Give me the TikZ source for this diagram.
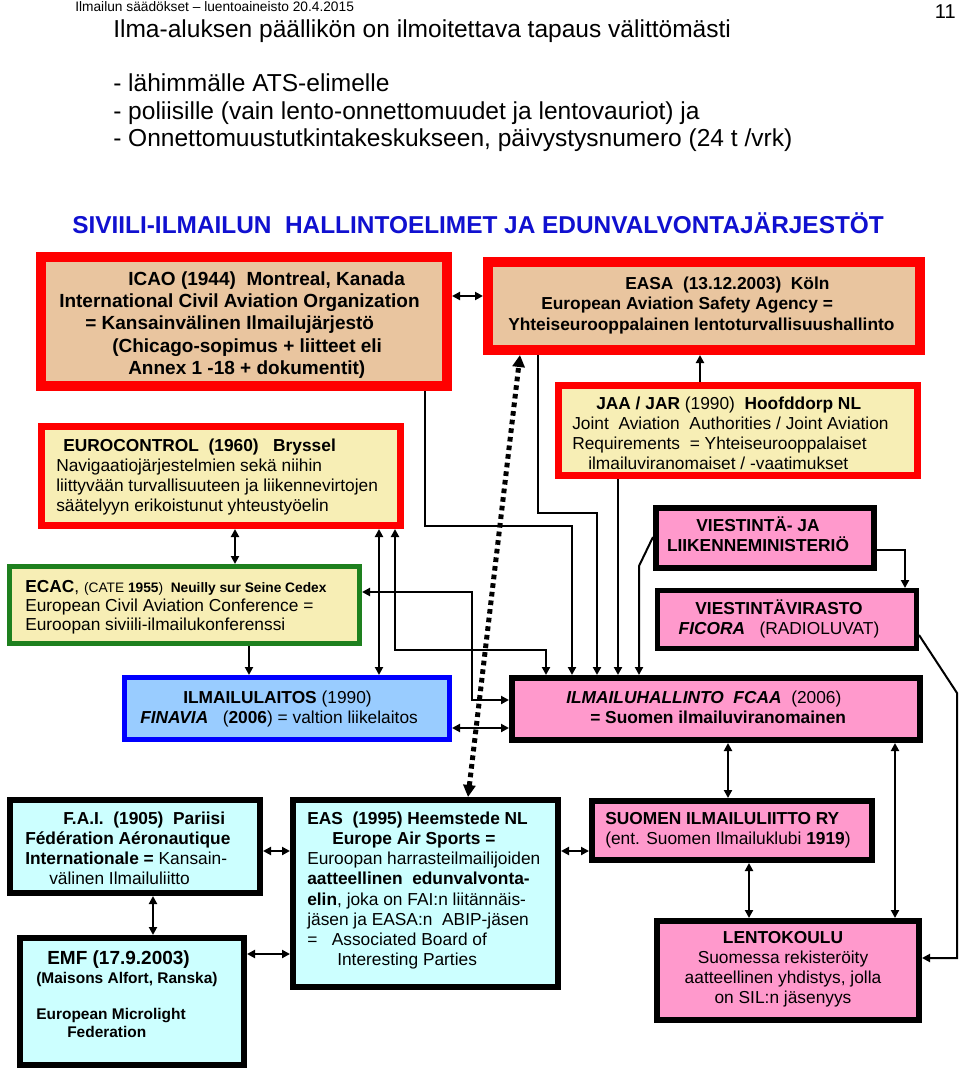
\documentclass[tikz,border=0pt]{standalone}
\usepackage{fontspec}
\setmainfont{Liberation Sans}
\usetikzlibrary{arrows.meta}
\definecolor{icaofill}{HTML}{E9C59F}
\definecolor{yelfill}{HTML}{F7EEB5}
\definecolor{pinkf}{HTML}{FF99CC}
\definecolor{bluef}{HTML}{99CCFF}
\definecolor{cyanf}{HTML}{CCFFFF}
\definecolor{greenb}{HTML}{1E801E}
\definecolor{headblue}{HTML}{1010D0}
\newcommand\tbl[1]{\begin{tabular}[t]{@{}l@{}}#1\end{tabular}}
\newcommand\tbc[1]{\begin{tabular}[t]{@{}c@{}}#1\end{tabular}}
\begin{document}
\begin{tikzpicture}[x=0.75pt,y=-0.75pt,
  box/.style={draw, rectangle, inner sep=0pt},
  arr/.style={-{Triangle[length=6pt,width=6pt]}, line width=1.5pt},
  dbl/.style={{Triangle[length=6pt,width=6pt]}-{Triangle[length=6pt,width=6pt]}, line width=1.5pt},
  dotarr/.style={{Triangle[length=9pt,width=9pt]}-{Triangle[length=9pt,width=9pt]}, line width=3.75pt, dash pattern=on 3.5pt off 3pt},
  txt/.style={anchor=base west, inner sep=0pt, font=\fontsize{13}{15}\selectfont},
  txc/.style={anchor=base, inner sep=0pt, font=\fontsize{13}{15}\selectfont}]
\useasboundingbox (0,0) rectangle (960,1070);
\fill[white] (0,0) rectangle (960,1070);

% header texts
\node[anchor=base west, inner sep=0pt, font=\fontsize{10.3}{12}\selectfont] (hdr) at (75,12) {Ilmailun säädökset – luentoaineisto 20.4.2015};
\node[anchor=base east, inner sep=0pt, font=\fontsize{15}{18}\selectfont] (pg) at (956,19) {11};
\node[anchor=base west, inner sep=0pt, font=\fontsize{18.4}{22}\selectfont] (title) at (113,38) {Ilma-aluksen päällikön on ilmoitettava tapaus välittömästi};
\node[anchor=base west, inner sep=0pt, font=\fontsize{18.4}{20.6}\selectfont] (bul) at (113,92) {\tbl{- lähimmälle ATS-elimelle\\- poliisille (vain lento-onnettomuudet ja lentovauriot) ja\\- Onnettomuustutkintakeskukseen, päivystysnumero (24 t /vrk)}};
\node[anchor=base west, inner sep=0pt, text=headblue, font=\bfseries\fontsize{18.3}{21}\selectfont] (head) at (72,233) {SIVIILI-ILMAILUN~~HALLINTOELIMET JA EDUNVALVONTAJÄRJESTÖT};

% boxes
\node[box, draw=red, fill=icaofill, line width=7.5pt, minimum width=304.5pt, minimum height=96.75pt] (icao) at (244,321.5) {};
\node[box, draw=red, fill=yelfill, line width=5.25pt, minimum width=269.25pt, minimum height=74.25pt] (euro) at (221,476) {};
\node[box, draw=red, fill=icaofill, line width=7.5pt, minimum width=324pt, minimum height=66pt] (easa) at (704,306) {};
\node[box, draw=red, fill=yelfill, line width=5.25pt, minimum width=269.25pt, minimum height=67.5pt] (jaa) at (738,430.5) {};
\node[box, draw=black, fill=pinkf, line width=4.5pt, minimum width=163.5pt, minimum height=45pt] (lvm) at (765,538) {};
\node[box, draw=black, fill=pinkf, line width=3.75pt, minimum width=194.25pt, minimum height=43.5pt] (ficora) at (787,619.5) {};
\node[box, draw=greenb, fill=yelfill, line width=3.75pt, minimum width=262.5pt, minimum height=57.75pt] (ecac) at (184.5,605) {};
\node[box, draw=blue, fill=bluef, line width=3.75pt, minimum width=243.75pt, minimum height=46.5pt] (finavia) at (287,708.5) {};
\node[box, draw=black, fill=pinkf, line width=4.5pt, minimum width=306pt, minimum height=46.5pt] (fcaa) at (716,709) {};
\node[box, draw=black, fill=cyanf, line width=4.5pt, minimum width=187.5pt, minimum height=69.75pt] (fai) at (135,846.5) {};
\node[box, draw=black, fill=cyanf, line width=4.5pt, minimum width=168pt, minimum height=95.25pt] (emf) at (132,1001.5) {};
\node[box, draw=black, fill=cyanf, line width=4.5pt, minimum width=198.75pt, minimum height=140.25pt] (eas) at (425.5,893.5) {};
\node[box, draw=black, fill=pinkf, line width=4.5pt, minimum width=210pt, minimum height=44.25pt] (sil) at (732,830.5) {};
\node[box, draw=black, fill=pinkf, line width=4.5pt, minimum width=196.5pt, minimum height=74.25pt] (lento) at (788,970.5) {};

% connectors
\draw[dbl] (icao.east|-0,296) -- (easa.west|-0,296);
\draw[arr] (jaa.north-|700,0) -- (easa.south-|700,0);
\draw[dotarr] (eas.north-|468,0) -- (easa.south-|520,0);
\draw[arr] (icao.south-|425,0) |- (572,526) -- (fcaa.north-|572,0);
\draw[arr] (easa.south-|538,0) |- (597,513) -- (fcaa.north-|597,0);
\draw[arr] (jaa.south-|618,0) -- (fcaa.north-|618,0);
\draw[arr] (lvm.west|-0,537) -- (639,566) -- (fcaa.north-|639,0);
\draw[arr] (lvm.east|-0,550) -| (ficora.north-|905,0);
\draw[arr] (ficora.east|-0,635) -- (957,693) |- (lento.east|-0,958);
\draw[dbl] (euro.south-|235,0) -- (ecac.north-|235,0);
\draw[arr] (ecac.south-|249,0) -- (finavia.north-|249,0);
\draw[dbl] (euro.south-|379,0) -- (finavia.north-|379,0);
\draw[dbl] (euro.south-|395,0) |- (546,650) -- (fcaa.north-|546,0);
\draw[dbl] (ecac.east|-0,592) -| (472,700) -- (fcaa.west|-0,700);
\draw[dbl] (finavia.east|-0,728) -- (fcaa.west|-0,728);
\draw[dbl] (fcaa.south-|728,0) -- (sil.north-|728,0);
\draw[dbl] (fcaa.south-|895,0) -- (lento.north-|895,0);
\draw[dbl] (sil.south-|749,0) -- (lento.north-|749,0);
\draw[dbl] (fai.east|-0,851) -- (eas.west|-0,851);
\draw[dbl] (emf.east|-0,954) -- (eas.west|-0,954);
\draw[dbl] (eas.east|-0,851) -- (sil.west|-0,851);
\draw[dbl] (fai.south-|153,0) -- (emf.north-|153,0);

% box texts
\node[txt, font=\bfseries\fontsize{14.25}{16.75}\selectfont] (icaot) at (59,285) {\tbl{\hspace*{51.75pt}ICAO (1944)~~Montreal, Kanada\\International Civil Aviation Organization\\\hspace*{19.5pt}= Kansainvälinen Ilmailujärjestö\\\hspace*{39.75pt}(Chicago-sopimus + liitteet eli\\\hspace*{51.75pt}Annex 1 -18 + dokumentit)}};
\node[txt] (eurot) at (56,451) {\tbl{\hspace*{5.25pt}\textbf{EUROCONTROL~~(1960)~~~Bryssel}\\Navigaatiojärjestelmien sekä niihin\\liittyvään turvallisuuteen ja liikennevirtojen\\säätelyyn erikoistunut yhteustyöelin}};
\node[txt, font=\bfseries\fontsize{13}{15.4}\selectfont] (easat) at (508,289) {\tbl{\hspace*{87.75pt}EASA~~(13.12.2003)~~Köln\\\hspace*{24.75pt}European Aviation Safety Agency =\\Yhteiseurooppalainen lentoturvallisuushallinto}};
\node[txt] (jaat) at (572,409) {\tbl{\hspace*{18pt}\textbf{JAA / JAR} (1990)~~\textbf{Hoofddorp NL}\\Joint~~Aviation~~Authorities / Joint Aviation\\Requirements~~= Yhteiseurooppalaiset\\\hspace*{12pt}ilmailuviranomaiset / -vaatimukset}};
\node[txc, font=\bfseries\fontsize{13}{15}\selectfont] (lvmt) at (758,531) {\tbc{VIESTINTÄ- JA\\LIIKENNEMINISTERIÖ}};
\node[txc] (ficorat) at (779,614) {\tbc{\textbf{VIESTINTÄVIRASTO}\\\textbf{\textit{FICORA}}~~~(RADIOLUVAT)}};
\node[txt] (fcaat) at (566,703) {\tbl{\textbf{\textit{ILMAILUHALLINTO~~FCAA}}~~(2006)\\\hspace*{18pt}\textbf{= Suomen ilmailuviranomainen}}};
\node[txt, font=\fontsize{13}{14.6}\selectfont] (ecact) at (25,592) {\tbl{\textbf{ECAC}, {\fontsize{10.3}{12}\selectfont(CATE \textbf{1955})~~\textbf{Neuilly sur Seine Cedex}}\\European Civil Aviation Conference =\\Euroopan siviili-ilmailukonferenssi}};
\node[txt] (finaviat) at (140,703) {\tbl{\hspace*{32.25pt}\textbf{ILMAILULAITOS} (1990)\\\textbf{\textit{FINAVIA}}~~~(\textbf{2006}) = valtion liikelaitos}};
\node[txt] (fait) at (25,824) {\tbl{\hspace*{28.5pt}\textbf{F.A.I.~~(1905)~~Pariisi}\\\textbf{Fédération Aéronautique}\\\textbf{Internationale =} Kansain-\\\hspace*{18pt}välinen Ilmailuliitto}};
\node[txt, font=\bfseries\fontsize{14.25}{16}\selectfont] (emft) at (47,964) {EMF (17.9.2003)};
\node[txt, font=\bfseries\fontsize{11.6}{13.5}\selectfont] (emft2) at (36,983) {\tbl{(Maisons Alfort, Ranska)\\ \\European Microlight\\\hspace*{23.25pt}Federation}};
\node[txt, font=\fontsize{13}{15.2}\selectfont] (east) at (307,824) {\tbl{\textbf{EAS~~(1995) Heemstede NL}\\\hspace*{18.75pt}\textbf{Europe Air Sports =}\\Euroopan harrasteilmailijoiden\\\textbf{aatteellinen~~edunvalvonta-}\\\textbf{elin}, joka on FAI:n liitännäis-\\jäsen ja EASA:n~~ABIP-jäsen\\=~~~Associated Board of\\\hspace*{22.5pt}Interesting Parties}};
\node[txt] (silt) at (605,824) {\tbl{\textbf{SUOMEN ILMAILULIITTO RY}\\(ent. Suomen Ilmailuklubi \textbf{1919})}};
\node[txc] (lentot) at (783,943) {\tbc{\textbf{LENTOKOULU}\\Suomessa rekisteröity\\aatteellinen yhdistys, jolla\\on SIL:n jäsenyys}};
\end{tikzpicture}
\end{document}
